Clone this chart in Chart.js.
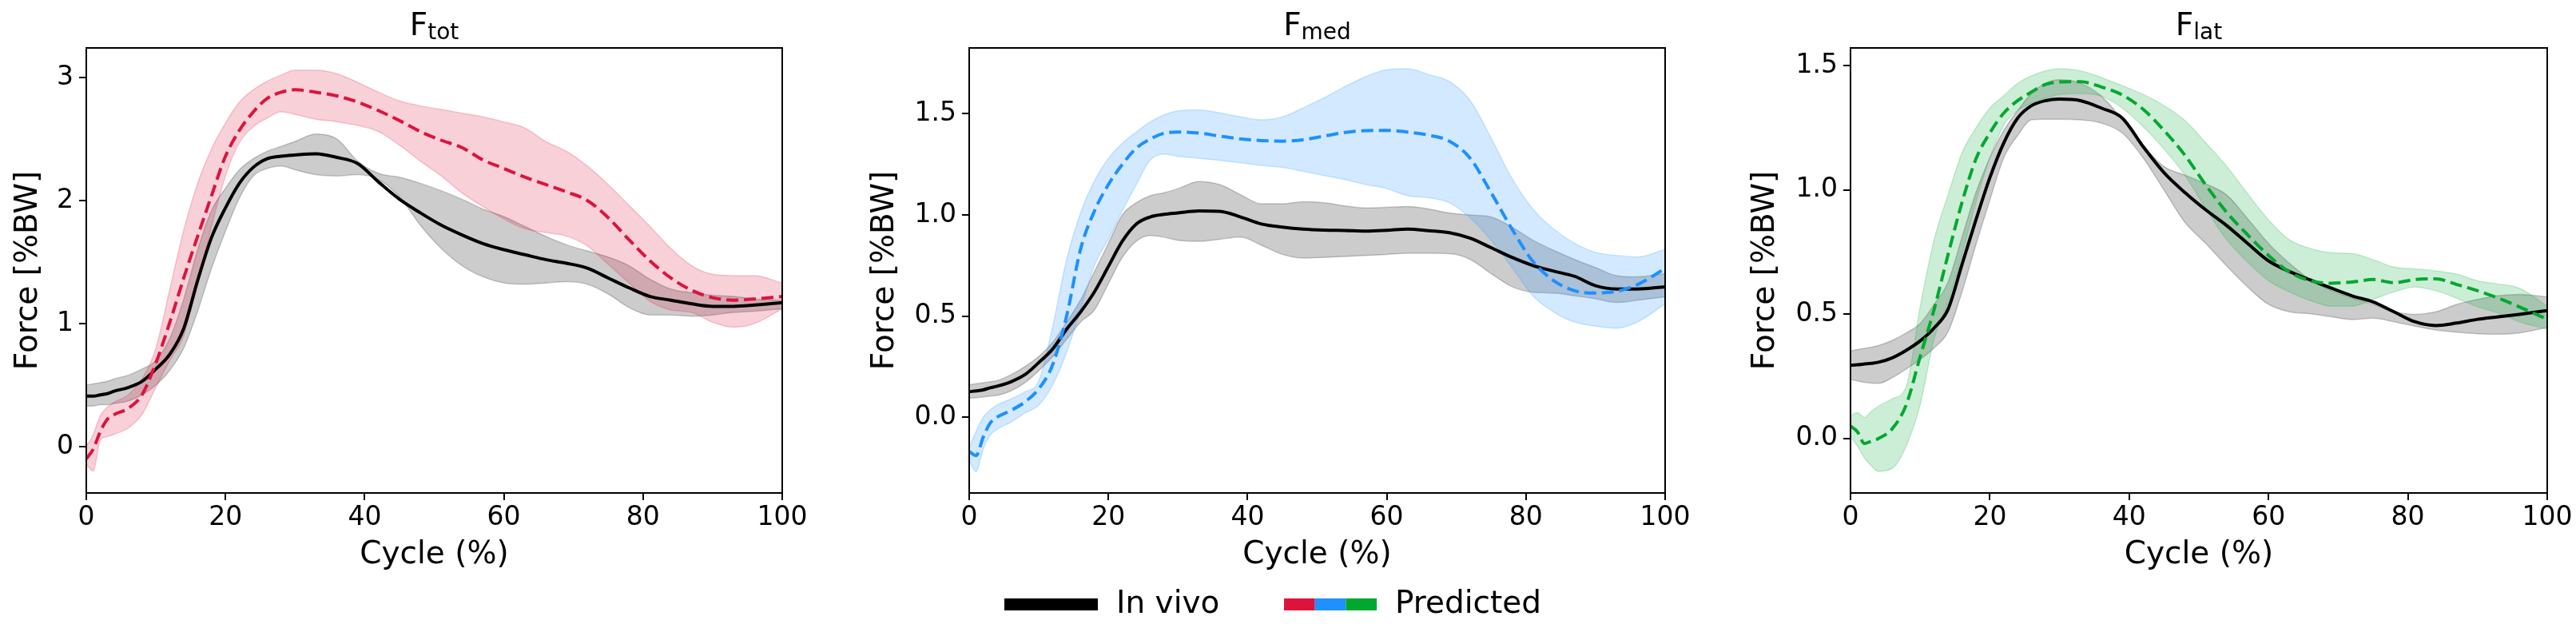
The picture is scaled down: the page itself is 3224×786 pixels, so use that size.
<!DOCTYPE html>
<html>
<head>
<meta charset="utf-8">
<script src="https://cdn.jsdelivr.net/npm/chart.js@4.4.1/dist/chart.umd.min.js"></script>
<style>
  html, body { margin: 0; padding: 0; background: #fff; overflow: hidden; }
  canvas { position: absolute; top: 0; }
</style>
</head>
<body>
<canvas id="cTot" width="1060" height="786" style="left:0px"></canvas>
<canvas id="cMed" width="1100" height="786" style="left:1060px"></canvas>
<canvas id="cLat" width="1064" height="786" style="left:2160px"></canvas>
<script>
// gait cycle samples (%)
const cycle = [0,1,2,3,4,6,8,10,12,14,16,18,20,22,24,26,28,30,33,36,39,42,45,48,51,54,57,60,63,66,69,72,75,78,81,84,87,90,93,96,100];

// F_tot
const totVivo   = [0.41,0.41,0.42,0.43,0.45,0.48,0.53,0.63,0.75,0.96,1.35,1.70,1.94,2.14,2.27,2.34,2.36,2.37,2.38,2.35,2.30,2.15,2.01,1.90,1.80,1.72,1.65,1.60,1.56,1.52,1.49,1.45,1.37,1.29,1.22,1.19,1.16,1.14,1.14,1.15,1.17];
const totVivoHi = [0.50,0.51,0.52,0.53,0.55,0.58,0.63,0.70,0.88,1.20,1.60,1.92,2.10,2.25,2.34,2.40,2.44,2.48,2.54,2.50,2.32,2.22,2.19,2.14,2.08,2.01,1.93,1.87,1.79,1.71,1.64,1.59,1.54,1.47,1.36,1.28,1.25,1.23,1.22,1.20,1.19];
const totVivoLo = [0.33,0.33,0.34,0.34,0.35,0.37,0.42,0.50,0.62,0.80,1.10,1.45,1.75,2.02,2.20,2.26,2.28,2.25,2.21,2.20,2.21,2.17,2.03,1.80,1.61,1.47,1.38,1.33,1.32,1.33,1.34,1.32,1.24,1.13,1.07,1.07,1.06,1.07,1.09,1.10,1.12];
const totPred   = [-0.10,-0.02,0.12,0.22,0.26,0.31,0.42,0.68,1.01,1.37,1.71,2.04,2.36,2.57,2.72,2.83,2.88,2.90,2.88,2.85,2.80,2.73,2.65,2.56,2.49,2.43,2.33,2.26,2.19,2.13,2.07,2.00,1.86,1.68,1.51,1.37,1.27,1.21,1.19,1.20,1.22];
const totPredHi = [0.00,0.10,0.25,0.32,0.36,0.42,0.55,0.80,1.28,1.76,2.14,2.42,2.63,2.80,2.90,2.97,3.02,3.06,3.06,3.03,2.96,2.88,2.81,2.77,2.74,2.71,2.68,2.64,2.59,2.48,2.40,2.28,2.13,1.96,1.79,1.61,1.47,1.40,1.39,1.39,1.33];
const totPredLo = [-0.14,-0.20,0.05,0.08,0.10,0.15,0.26,0.48,0.70,0.90,1.33,1.79,2.20,2.47,2.60,2.67,2.72,2.70,2.66,2.64,2.61,2.56,2.45,2.32,2.20,2.06,1.95,1.85,1.77,1.74,1.71,1.63,1.48,1.33,1.18,1.11,1.09,1.01,0.97,1.00,1.12];

// F_med
const medVivo   = [0.126,0.13,0.135,0.145,0.153,0.175,0.21,0.27,0.337,0.435,0.52,0.62,0.745,0.87,0.955,0.99,1.003,1.01,1.02,1.018,0.99,0.955,0.94,0.93,0.925,0.923,0.92,0.924,0.93,0.922,0.912,0.885,0.838,0.79,0.75,0.722,0.696,0.65,0.634,0.634,0.645];
const medVivoHi = [0.16,0.165,0.17,0.175,0.18,0.21,0.25,0.30,0.37,0.47,0.58,0.72,0.86,1.0,1.06,1.095,1.11,1.13,1.165,1.15,1.10,1.055,1.055,1.065,1.06,1.045,1.035,1.038,1.042,1.03,1.01,1.0,0.99,0.94,0.875,0.825,0.78,0.74,0.70,0.694,0.71];
const medVivoLo = [0.094,0.096,0.10,0.104,0.107,0.13,0.17,0.23,0.30,0.385,0.47,0.53,0.66,0.79,0.87,0.898,0.89,0.875,0.87,0.88,0.89,0.85,0.805,0.787,0.79,0.795,0.80,0.805,0.81,0.81,0.808,0.78,0.71,0.645,0.618,0.614,0.60,0.585,0.567,0.578,0.595];
const medPred   = [-0.17,-0.19,-0.10,-0.03,0.0,0.033,0.075,0.14,0.26,0.50,0.83,1.02,1.15,1.25,1.33,1.375,1.404,1.41,1.405,1.39,1.376,1.368,1.365,1.372,1.39,1.408,1.417,1.418,1.41,1.395,1.365,1.28,1.11,0.93,0.77,0.675,0.625,0.614,0.622,0.655,0.735];
const medPredHi = [-0.15,-0.07,0.0,0.035,0.06,0.09,0.125,0.18,0.45,0.78,1.01,1.17,1.28,1.355,1.41,1.46,1.495,1.515,1.52,1.505,1.485,1.47,1.485,1.53,1.58,1.635,1.685,1.718,1.723,1.695,1.66,1.565,1.38,1.18,1.03,0.93,0.86,0.815,0.80,0.792,0.83];
const medPredLo = [-0.216,-0.27,-0.16,-0.09,-0.06,-0.025,0.02,0.06,0.16,0.32,0.53,0.75,0.88,1.02,1.15,1.27,1.30,1.29,1.28,1.27,1.258,1.245,1.235,1.215,1.195,1.175,1.15,1.13,1.095,1.085,1.06,0.985,0.875,0.74,0.60,0.52,0.47,0.45,0.44,0.47,0.56];

// F_lat
const latVivo   = [0.295,0.297,0.30,0.303,0.307,0.325,0.355,0.393,0.445,0.52,0.70,0.88,1.05,1.19,1.29,1.34,1.36,1.366,1.36,1.33,1.29,1.175,1.07,0.99,0.92,0.857,0.785,0.715,0.672,0.638,0.605,0.574,0.55,0.51,0.47,0.455,0.465,0.48,0.49,0.50,0.515];
const latVivoHi = [0.353,0.358,0.363,0.368,0.374,0.395,0.425,0.463,0.54,0.63,0.81,0.99,1.13,1.24,1.32,1.39,1.43,1.444,1.43,1.378,1.285,1.18,1.095,1.06,1.025,0.98,0.885,0.785,0.705,0.64,0.595,0.565,0.54,0.51,0.50,0.51,0.54,0.56,0.575,0.58,0.57];
const latVivoLo = [0.238,0.232,0.226,0.223,0.222,0.245,0.28,0.318,0.365,0.43,0.59,0.78,0.96,1.13,1.22,1.283,1.285,1.285,1.283,1.27,1.23,1.13,1.0,0.87,0.785,0.694,0.61,0.54,0.51,0.502,0.49,0.479,0.484,0.47,0.452,0.437,0.428,0.422,0.42,0.425,0.447];
const latPred   = [0.05,0.027,-0.02,-0.01,0.0,0.04,0.136,0.33,0.52,0.74,0.95,1.125,1.23,1.31,1.36,1.395,1.425,1.435,1.436,1.415,1.383,1.325,1.24,1.14,1.02,0.91,0.82,0.737,0.67,0.635,0.625,0.63,0.64,0.627,0.64,0.643,0.62,0.595,0.565,0.53,0.48];
const latPredHi = [0.093,0.104,0.085,0.11,0.13,0.16,0.21,0.53,0.80,0.98,1.15,1.25,1.33,1.38,1.43,1.46,1.48,1.488,1.48,1.453,1.42,1.385,1.34,1.28,1.19,1.095,0.985,0.88,0.80,0.765,0.748,0.745,0.72,0.69,0.683,0.675,0.662,0.635,0.622,0.605,0.533];
const latPredLo = [0.007,-0.03,-0.078,-0.11,-0.132,-0.12,-0.03,0.136,0.40,0.55,0.74,0.95,1.13,1.26,1.32,1.35,1.37,1.385,1.388,1.378,1.33,1.255,1.165,1.06,0.925,0.80,0.71,0.635,0.59,0.555,0.533,0.533,0.56,0.59,0.61,0.595,0.565,0.53,0.505,0.47,0.44];

// ticks
const xTicks = [0, 20, 40, 60, 80, 100];
const xTickLabels = ['0', '20', '40', '60', '80', '100'];
const totTicks = [0, 1, 2, 3];
const totTickLabels = ['0', '1', '2', '3'];
const halfTicks = [0, 0.5, 1.0, 1.5];
const halfTickLabels = ['0.0', '0.5', '1.0', '1.5'];

const FONT = 'DejaVu Sans';
const RED = '#DC143C', BLUE = '#1E90FF', GREEN = '#00A830';

function rgba(hex, a) {
  const n = parseInt(hex.slice(1), 16);
  return `rgba(${n >> 16},${(n >> 8) & 255},${n & 255},${a})`;
}
function pts(ys) { return cycle.map((x, i) => ({ x: x, y: ys[i] })); }

const framePlugin = {
  id: 'frame',
  afterDatasetsDraw(chart) {
    const a = chart.chartArea, ctx = chart.ctx;
    ctx.save();
    ctx.strokeStyle = '#000';
    ctx.lineWidth = 2;
    ctx.strokeRect(a.left, a.top, a.right - a.left, a.bottom - a.top);
    ctx.restore();
  }
};

const subTitlePlugin = {
  id: 'subTitle',
  afterDraw(chart, args, opts) {
    const ctx = chart.ctx, a = chart.chartArea;
    ctx.save();
    ctx.fillStyle = '#000';
    ctx.textBaseline = 'alphabetic';
    ctx.font = `39px "${FONT}"`;
    const wMain = ctx.measureText('F').width;
    ctx.font = `28px "${FONT}"`;
    const wSub = ctx.measureText(opts.sub).width;
    const x0 = (a.left + a.right) / 2 - (wMain + wSub) / 2;
    ctx.font = `39px "${FONT}"`;
    ctx.fillText('F', x0, 44);
    ctx.font = `28px "${FONT}"`;
    ctx.fillText(opts.sub, x0 + wMain, 49);
    ctx.restore();
  }
};

// figure legend, drawn on the middle panel
const legendPlugin = {
  id: 'figLegend',
  afterDraw(chart, args, opts) {
    if (!opts.show) return;
    const ctx = chart.ctx, off = opts.offset;
    ctx.save();
    ctx.fillStyle = '#000';
    ctx.fillRect(1257 - off, 749, 117, 15);
    const cols = [RED, BLUE, GREEN];
    cols.forEach((c, i) => {
      ctx.fillStyle = c;
      ctx.fillRect(1607 - off + i * 38.7, 749, 38.7, 15);
    });
    ctx.fillStyle = '#000';
    ctx.font = `39px "${FONT}"`;
    ctx.textBaseline = 'middle';
    ctx.fillText('In vivo', 1397 - off, 757);
    ctx.fillText('Predicted', 1746 - off, 757);
    ctx.restore();
  }
};

function makePanel(p) {
  const bandStyle = (col) => ({
    borderColor: rgba(col, 0.2), backgroundColor: rgba(col, 0.2),
    borderWidth: 1.5, pointRadius: 0, cubicInterpolationMode: 'monotone'
  });
  const datasets = [
    Object.assign({ data: pts(p.predHi), fill: '+1', order: 5 }, bandStyle(p.color)),
    Object.assign({ data: pts(p.predLo), fill: false, order: 5 }, bandStyle(p.color)),
    Object.assign({ data: pts(p.vivoHi), fill: '+1', order: 6 }, bandStyle('#000000')),
    Object.assign({ data: pts(p.vivoLo), fill: false, order: 6 }, bandStyle('#000000')),
    { data: pts(p.vivo), borderColor: '#000', borderWidth: 4, pointRadius: 0, fill: false,
      cubicInterpolationMode: 'monotone', order: 2 },
    { data: pts(p.pred), borderColor: p.color, borderWidth: 4, borderDash: [15, 7], pointRadius: 0,
      fill: false, cubicInterpolationMode: 'monotone', order: 1 }
  ];

  return new Chart(document.getElementById(p.id), {
    type: 'line',
    data: { datasets: datasets },
    options: {
      responsive: false,
      animation: false,
      events: [],
      layout: { autoPadding: false, padding: { left: 0, top: 60, right: p.padRight, bottom: 0 } },
      plugins: {
        legend: { display: false },
        tooltip: { enabled: false },
        subTitle: { sub: p.sub },
        figLegend: { show: !!p.legend, offset: p.offset }
      },
      scales: {
        x: {
          type: 'linear', min: 0, max: 100,
          afterBuildTicks: s => { s.ticks = xTicks.map(v => ({ value: v })); },
          afterFit: s => { s.height = 169; },
          ticks: {
            callback: (v, i) => xTickLabels[i],
            font: { family: FONT, size: 33 }, color: '#000', padding: 3,
            maxRotation: 0, autoSkip: false
          },
          grid: { drawOnChartArea: false, drawTicks: true, tickLength: 9, color: '#000', lineWidth: 2 },
          border: { display: true, color: '#000', width: 2 },
          title: {
            display: true, text: 'Cycle (%)', color: '#000',
            font: { family: FONT, size: 39 }, padding: { top: 0, bottom: 68 }
          }
        },
        y: {
          type: 'linear', min: p.yMin, max: p.yMax,
          afterBuildTicks: s => { s.ticks = p.yTicks.map(v => ({ value: v })); },
          afterFit: s => { s.width = p.yWidth; },
          ticks: {
            callback: (v, i) => p.yLabels[i],
            font: { family: FONT, size: 33 }, color: '#000', padding: 7, autoSkip: false
          },
          grid: { drawOnChartArea: false, drawTicks: true, tickLength: 9, color: '#000', lineWidth: 2 },
          border: { display: true, color: '#000', width: 2 },
          title: {
            display: true, text: 'Force [%BW]', color: '#000',
            font: { family: FONT, size: 39 }, padding: { top: p.yTitlePad, bottom: 0 }
          }
        }
      }
    },
    plugins: [framePlugin, subTitlePlugin, legendPlugin]
  });
}

makePanel({
  id: 'cTot', sub: 'tot', color: RED, offset: 0,
  vivo: totVivo, vivoHi: totVivoHi, vivoLo: totVivoLo,
  pred: totPred, predHi: totPredHi, predLo: totPredLo,
  yMin: -0.377, yMax: 3.24, yTicks: totTicks, yLabels: totTickLabels,
  yWidth: 108, padRight: 81, yTitlePad: 12
});
makePanel({
  id: 'cMed', sub: 'med', color: BLUE, offset: 1060, legend: true,
  vivo: medVivo, vivoHi: medVivoHi, vivoLo: medVivoLo,
  pred: medPred, predHi: medPredHi, predLo: medPredLo,
  yMin: -0.375, yMax: 1.826, yTicks: halfTicks, yLabels: halfTickLabels,
  yWidth: 153, padRight: 76, yTitlePad: 24
});
makePanel({
  id: 'cLat', sub: 'lat', color: GREEN, offset: 2160,
  vivo: latVivo, vivoHi: latVivoHi, vivoLo: latVivoLo,
  pred: latPred, predHi: latPredHi, predLo: latPredLo,
  yMin: -0.219, yMax: 1.572, yTicks: halfTicks, yLabels: halfTickLabels,
  yWidth: 156, padRight: 36, yTitlePad: 26
});
</script>
</body>
</html>
